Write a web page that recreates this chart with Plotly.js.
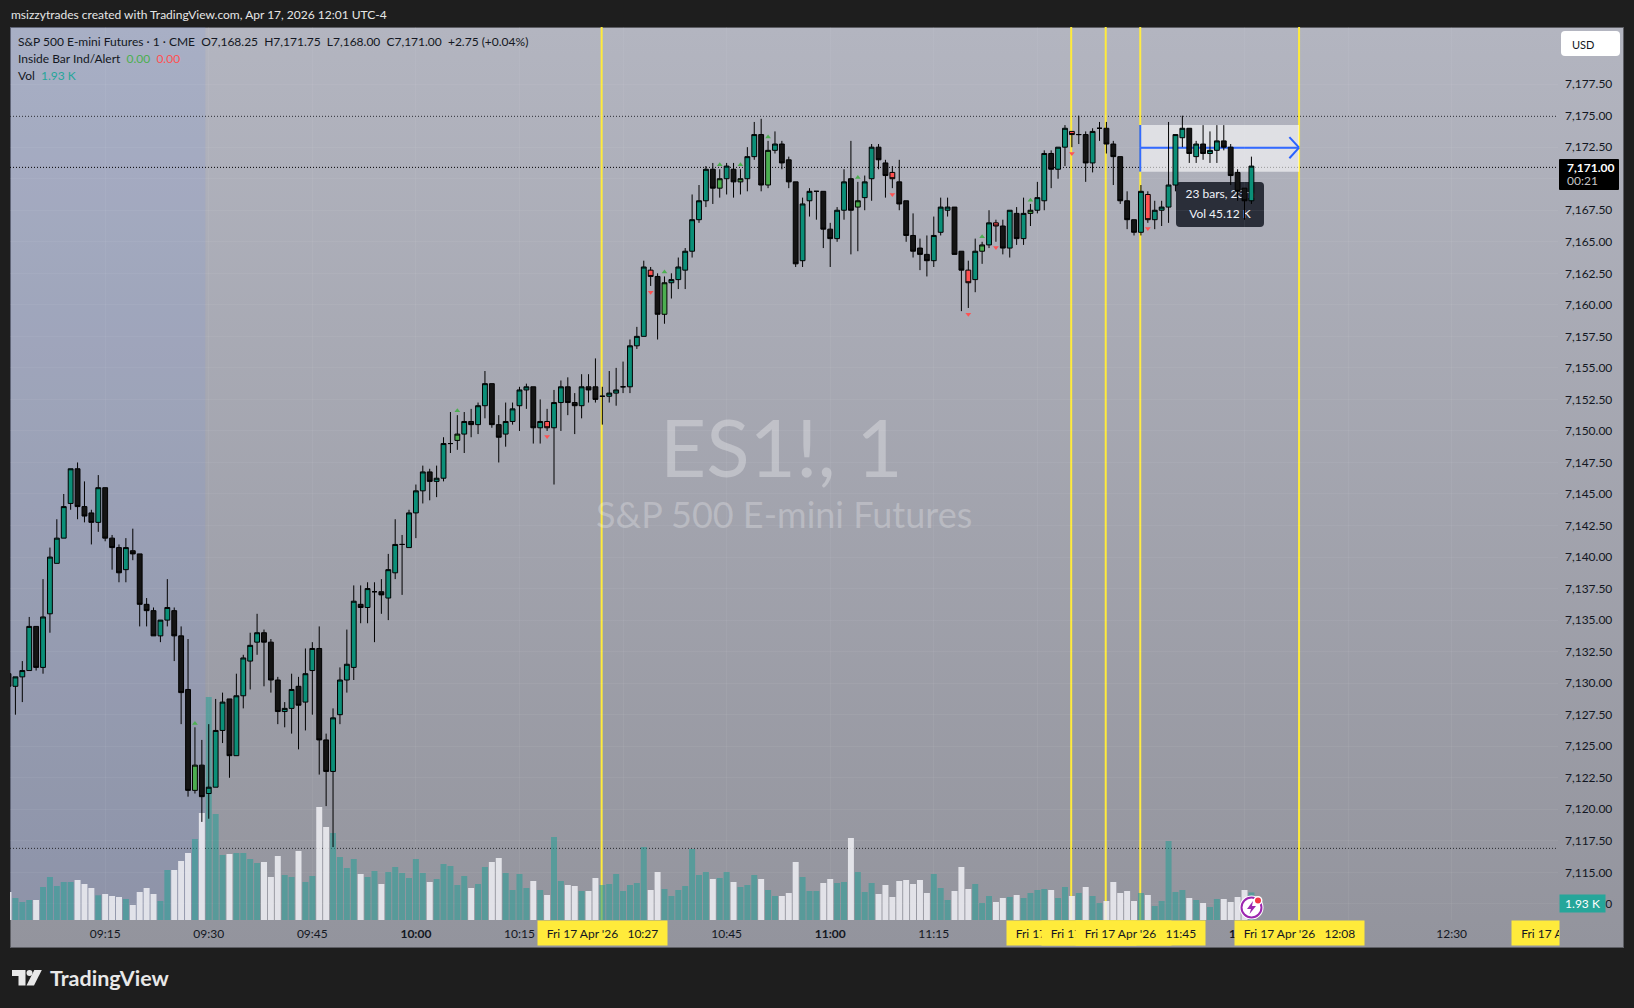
<!DOCTYPE html>
<html>
<head>
<meta charset="utf-8">
<script src="https://cdn.plot.ly/plotly-3.0.1.min.js"></script>
<style>
  body { margin: 0; background: #1e1e1e; overflow: hidden; }
  #frame { position: absolute; left: 10px; top: 27px; width: 1612px; height: 919px; border: 1px solid #5d5e64;
           background: linear-gradient(#b3b5c0, #93949d); }
  #chart { position: absolute; left: 0; top: 0; width: 1634px; height: 1008px; }
</style>
</head>
<body>
<div id="frame"></div>
<div id="chart"></div>
<script>
// ES1! 1 minute bars, 09:01 to 12:01
const opens = [
  7130.75,7129.75,7130.5,7131,7134.5,7131.25,7135.5,7139.5,7141.5,7144.25,
  7147,7144,7143.5,7142.75,7145.5,7141.5,7140.75,7139,7140.5,7140.25,
  7136.25,7135.75,7133.75,7135,7135.75,7133.75,7129.5,7121.5,7123.5,7121.25,
  7121.75,7126.25,7128.75,7124.25,7129,7131.75,7133.25,7134,7133.25,7130.25,
  7127.75,7128,7129.75,7128.5,7131,7132.75,7125.5,7123,7127.5,7130.25,
  7131.25,7136.25,7136,7137.25,7137.25,7136.75,7138.75,7141,7140.75,7143.5,
  7145.25,7146.75,7146,7146.25,7149,7149.25,7149.75,7150.75,7150.5,7152,
  7153.75,7150.5,7149.75,7150.75,7152,7153.25,7153.5,7150.25,7150.75,7150.25,
  7152.25,7153.5,7152.25,7152,7153.5,7153.5,7152.75,7152.75,7153,7153.5,
  7153.5,7156.75,7157.5,7162.75,7162.25,7159.25,7161.75,7162,7162.75,7164.25,
  7166.75,7168.25,7170.75,7169.25,7170,7170.75,7169.75,7170,7171.75,7173.5,
  7169.5,7172.25,7172.75,7171.5,7169.75,7163.5,7168.25,7169,7169,7166,
  7165.25,7167.5,7170,7167.75,7168.5,7170,7172.5,7171.25,7170.5,7169.75,
  7168.25,7165.5,7164.5,7164,7163.5,7165.75,7167.5,7167.75,7164.25,7162.75,
  7162,7164.25,7164.75,7166.5,7166.25,7164.5,7167.25,7165.25,7167.25,7167.5,
  7168.25,7172,7170.75,7172.5,7173.75,7173.5,7173.5,7171.25,7174,7174,
  7172.75,7171.75,7168.25,7166.75,7165.75,7168.75,7166.75,7167.5,7167.75,7169.5,
  7173.25,7174,7171.75,7172.75,7172,7172.25,7173,7172.5,7170.5,7169.25,
  7168.25
];
const highs = [
  7131,7130.5,7131.75,7135.25,7134.5,7138.25,7140.75,7143,7145,7147,
  7147.5,7146,7143.75,7146.5,7145.5,7141.75,7141,7141.5,7142.25,7140.25,
  7136.75,7136,7135,7138.25,7136,7134.5,7133.5,7126.5,7125.5,7126.75,
  7128.75,7129.25,7128.75,7130.75,7132.25,7134,7135.5,7134.25,7133.5,7130.5,
  7128.5,7130.75,7130.5,7132.75,7133.25,7134.5,7126,7128,7131.25,7134.25,
  7137.75,7137.75,7138,7138,7138.25,7140.25,7143,7141.75,7143.75,7145.75,
  7147.25,7147,7147.25,7149.5,7151.5,7151.25,7151.5,7151.75,7152.25,7154.75,
  7153.75,7151.25,7152.25,7152.25,7153.5,7153.75,7153.5,7152.5,7151.75,7153.25,
  7154,7154.25,7153,7154.5,7154.5,7155.75,7153.5,7154.75,7155,7155.5,
  7157.25,7158.25,7163.5,7163,7162.5,7162.25,7162.5,7163.75,7164.5,7168.75,
  7169.5,7171,7171.25,7170.75,7171.25,7171.25,7170.75,7172.5,7174.5,7174.75,
  7173,7173.75,7173,7171.75,7169.75,7168.5,7169.25,7169,7169,7166.5,
  7167.75,7170.75,7173,7169.75,7170.25,7172.75,7172.75,7171.5,7171,7171.5,
  7168.25,7167.25,7165.25,7165.5,7167,7168.5,7168.5,7167.75,7164.25,7163.5,
  7165.25,7165,7167.5,7166.75,7166.75,7167.5,7167.75,7168.5,7168,7169.75,
  7172.25,7172.25,7172.5,7174.25,7173.75,7175,7173.75,7174,7174.5,7174.5,
  7173,7171.75,7169,7166.75,7169.5,7169,7168.25,7168.25,7174.5,7173.5,
  7175,7174,7173,7174.25,7173.75,7174.25,7174.25,7172.75,7170.75,7169.25,
  7171.75
];
const lows = [
  7129.25,7127.5,7128.5,7131,7131,7130.75,7134,7139.5,7141.5,7143.75,
  7143,7142.75,7141,7142,7141.25,7139,7138,7138,7139.75,7134.5,
  7134.5,7133.75,7133.25,7134.5,7131.75,7126.75,7121,7121.25,7119,7119.25,
  7121.75,7125.25,7122.5,7124.25,7128,7129.5,7132.25,7129.75,7129.25,7126.75,
  7126.5,7126,7124.75,7126.25,7127.5,7122.75,7120.25,7117,7126.75,7129.25,
  7130.25,7134.75,7134.75,7133.25,7135.5,7135,7138.25,7137,7140.75,7141.5,
  7144.25,7144.5,7144.75,7146,7148.25,7148.5,7148.25,7149.5,7149.75,7151,
  7150.25,7147.5,7148.75,7150.5,7150,7151.75,7149,7149,7150,7145.75,
  7150,7151.25,7149.75,7151,7152.25,7152.25,7150.5,7152.25,7152,7153,
  7153,7156.5,7157.5,7161.5,7157.25,7158.5,7160.5,7161.25,7161.25,7163.75,
  7166.5,7167.75,7168,7168.5,7168.75,7168.5,7168.75,7169,7171.5,7169,
  7169.25,7172,7170.75,7169.25,7163,7163,7167,7166.75,7164.5,7163,
  7165,7166.75,7164,7164.25,7167.5,7168.25,7170.75,7168.5,7169.25,7167.5,
  7165,7163.75,7162.75,7162.25,7163,7165.5,7167,7164,7159.5,7159.75,
  7161,7163.25,7164.5,7165,7164,7163.75,7164.75,7164.75,7166.25,7167.25,
  7167.5,7169.25,7170,7171,7172.5,7172.75,7169.75,7170.5,7173,7172,
  7169.5,7168,7166,7165.5,7165.5,7166.5,7166,7166.25,7166.5,7169,
  7172.5,7171.25,7171.25,7171.5,7171.25,7171.25,7172.25,7169.5,7168.25,7166.75,
  7168
];
const closes = [
  7129.75,7130.5,7131,7134.5,7131.25,7135.25,7140,7141.5,7144,7147,
  7144,7143.25,7142.75,7145.5,7141.5,7140.75,7138.75,7140.75,7140.25,7136.25,
  7135.75,7133.75,7135,7136,7133.75,7129.25,7121.5,7123.5,7121,7121.75,
  7126.25,7128.5,7124.25,7129,7132,7133,7134,7133.25,7130.25,7127.75,
  7128,7129.5,7128.25,7130.75,7132.75,7125.5,7123,7127.25,7130.25,7131.5,
  7136.5,7136,7137.5,7137.25,7137,7139,7141,7141,7143.5,7145.25,
  7146.75,7146,7146.25,7149,7149,7149.75,7150.75,7150.5,7152,7153.75,
  7150.5,7149.5,7150.75,7151.75,7153.25,7153.5,7150.25,7150.75,7150.25,7152.25,
  7153.5,7152.25,7152,7153.5,7153.25,7152.5,7152.75,7153,7153.25,7153.5,
  7156.75,7157.5,7163,7162.25,7159.25,7161.75,7162,7163,7164.25,7166.75,
  7168.25,7170.75,7169.25,7170,7171,7169.75,7170,7171.75,7173.5,7169.5,
  7172.25,7172.75,7171.25,7169.75,7163.25,7168,7169,7169,7166,7165.25,
  7167.5,7169.75,7167.5,7168.25,7169.75,7172.5,7171.5,7170.25,7170,7168,
  7165.5,7164.25,7164,7163.5,7165.5,7167.75,7167.75,7164,7162.75,7161.75,
  7164.25,7164.75,7166.5,7166.25,7164.5,7167.5,7165.25,7167.25,7167.5,7168.5,
  7172,7170.75,7172.5,7174,7173.5,7173.5,7171.25,7173.75,7174,7172.75,
  7171.75,7168.25,7166.75,7165.75,7169,7166.75,7167.5,7167.75,7169.5,7173.5,
  7174,7172,7172.75,7172,7172.25,7173,7172.5,7170.25,7169,7168.25,
  7171
];
// volume in thousands of contracts
const volumes = [
  1.96,1.54,1.26,1.40,1.40,2.31,3.01,2.38,2.66,2.66,
  2.80,2.52,2.24,1.73,1.82,1.68,1.61,1.47,1.05,1.96,
  2.24,1.82,1.33,3.50,3.50,4.13,4.69,5.67,7.49,15.61,
  7.42,4.55,4.62,4.69,4.69,4.27,3.99,4.06,3.01,4.48,
  3.15,3.01,4.83,2.66,3.08,7.91,6.51,6.09,4.41,3.64,
  4.27,3.22,3.01,3.43,2.52,3.36,3.71,3.29,2.94,4.27,
  3.29,2.66,2.87,3.92,3.78,2.45,3.08,2.24,2.52,3.71,
  4.06,4.34,3.29,2.10,3.22,2.24,2.73,2.10,1.75,5.81,
  2.73,2.45,2.38,2.03,2.03,2.94,2.45,2.52,3.22,2.03,
  2.45,2.59,5.11,2.10,3.36,2.17,1.68,2.10,2.38,4.97,
  3.15,3.36,2.87,2.94,3.36,2.66,2.31,2.45,3.15,2.87,
  2.10,1.68,1.68,1.89,4.06,3.01,2.03,2.03,2.59,2.87,
  2.59,2.66,5.74,3.36,1.96,2.59,1.82,2.45,1.61,2.73,
  2.80,2.52,2.80,1.89,3.22,2.24,1.40,2.03,3.71,2.17,
  2.52,1.19,1.68,1.26,1.54,1.61,1.75,1.54,1.89,2.10,
  2.17,2.10,1.54,2.31,1.68,1.89,2.31,1.68,1.19,1.33,
  2.66,1.89,2.03,1.33,1.89,1.75,0.98,1.33,5.53,1.96,
  2.10,1.54,1.40,1.19,0.91,1.47,1.47,1.26,1.61,2.10,
  1.93
];

// inside bar signals: triangle time and price
const bullTimes = ['09:28','10:06','10:36','10:44','10:47','10:51','11:04','11:22','11:29'];
const bullPrices = [7126.8,7151.6,7162.6,7171.1,7171.1,7173.3,7170.1,7165.4,7168.3];
const bearTimes = ['10:19','10:34','11:09','11:20','11:24','11:35','11:46'];
const bearPrices = [7149.55,7161,7168.75,7159.25,7164.55,7172,7166.05];

const markedTimes = ['10:27','11:35','11:40','11:45','12:08'];
const levels = [7174.95, 7170.9, 7116.9];
const priceTicks = [7177.5,7175,7172.5,7170,7167.5,7165,7162.5,7160,7157.5,7155,7152.5,7150,7147.5,7145,
  7142.5,7140,7137.5,7135,7132.5,7130,7127.5,7125,7122.5,7120,7117.5,7115,7112.5];
const tickTimes = ['09:15','09:30','09:45','10:00','10:15','10:30','10:45','11:00','11:15','11:30','11:45','12:00','12:15','12:30'];
const tickLabels = ['09:15','09:30','09:45','<b>10:00</b>','10:15','10:30','10:45','<b>11:00</b>','11:15','11:30','11:45','<b>12:00</b>','12:15','12:30'];

const FONT = 'Lato, "Noto Sans", sans-serif';
const DARK = '#131722';
const TEAL = '#0b8f78';
const YELLOW = '#ffeb3b';
const BLUE = '#2962ff';
const W = 1634, H = 1008, ML = 10, MR = 76, MT = 27, MB = 88;

const day = '2026-04-17 ';
const t = s => day + s;
// drawings sit a hair left of the bar centre in the original
const lineTime = s => {
  const [hh, mm] = s.split(':').map(Number);
  const m = hh * 60 + mm - 1;
  return t(String(Math.floor(m / 60)).padStart(2, '0') + ':' + String(m % 60).padStart(2, '0') + ':54');
};
// pixel position on the page to paper coordinates
const px = x => (x - ML) / (W - ML - MR);
const py = y => 1 - (y - MT) / (H - MT - MB);

const times = opens.map((_, i) => {
  const m = 541 + i;
  return t(String(Math.floor(m / 60)).padStart(2, '0') + ':' + String(m % 60).padStart(2, '0'));
});
const flagged = new Set(bullTimes.concat(bearTimes).map(t));

function candles(keep, upColor, downColor) {
  const idx = times.map((_, i) => i).filter(i => keep(times[i]));
  return {
    type: 'candlestick', xaxis: 'x', yaxis: 'y2', hoverinfo: 'skip', showlegend: false,
    x: idx.map(i => times[i]), open: idx.map(i => opens[i]), high: idx.map(i => highs[i]),
    low: idx.map(i => lows[i]), close: idx.map(i => closes[i]),
    increasing: { line: { color: '#000', width: 1 }, fillcolor: upColor },
    decreasing: { line: { color: '#000', width: 1 }, fillcolor: downColor }
  };
}

const data = [
  {
    type: 'bar', x: times, y: volumes, width: 52000, xaxis: 'x', yaxis: 'y', hoverinfo: 'skip', showlegend: false,
    marker: { color: times.map((_, i) => closes[i] >= opens[i] ? 'rgba(38,158,150,0.55)' : 'rgba(240,240,245,0.85)'), line: { width: 0 } }
  },
  // tooltip text sits on the lower subplot so the candles cover it, as in the original
  {
    type: 'scatter', mode: 'text', xaxis: 'x', yaxis: 'y', hoverinfo: 'skip', showlegend: false,
    x: [t('11:56:27'), t('11:56:27')], y: [50.76, 49.36],
    text: ['23 bars, 23m', 'Vol 45.12 K'], textfont: { family: FONT, size: 12, color: '#f0f3fa' }
  },
  candles(x => !flagged.has(x), TEAL, '#141414'),
  candles(x => flagged.has(x), '#4caf50', '#ff5252'),
  {
    type: 'scatter', mode: 'markers', xaxis: 'x', yaxis: 'y2', hoverinfo: 'skip', showlegend: false,
    x: bullTimes.map(t), y: bullPrices, marker: { symbol: 'triangle-up', size: 5, color: '#4caf50' }
  },
  {
    type: 'scatter', mode: 'markers', xaxis: 'x', yaxis: 'y2', hoverinfo: 'skip', showlegend: false,
    x: bearTimes.map(t), y: bearPrices, marker: { symbol: 'triangle-down', size: 5, color: '#ff5252' }
  }
];

// rounded box in page pixels
function roundBox(x0, x1, y0, y1, r, color, layer) {
  const P = (x, y) => px(x) + ',' + py(y);
  const d = 'M' + P(x0 + r, y0) + ' L' + P(x1 - r, y0) + ' Q' + P(x1, y0) + ' ' + P(x1, y0 + r) +
    ' L' + P(x1, y1 - r) + ' Q' + P(x1, y1) + ' ' + P(x1 - r, y1) +
    ' L' + P(x0 + r, y1) + ' Q' + P(x0, y1) + ' ' + P(x0, y1 - r) +
    ' L' + P(x0, y0 + r) + ' Q' + P(x0, y0) + ' ' + P(x0 + r, y0) + ' Z';
  return { type: 'path', layer: layer, xref: 'paper', yref: 'paper', path: d, fillcolor: color, line: { width: 0 } };
}

const shapes = [
  // pre-market tint
  { type: 'rect', layer: 'below', xref: 'x', yref: 'paper', x0: t('09:01:13'), x1: t('09:29:30'), y0: 0, y1: 1,
    fillcolor: 'rgba(110,145,225,0.16)', line: { width: 0 } }
];
levels.forEach(p => shapes.push({ type: 'line', layer: 'below', xref: 'paper', yref: 'y2', x0: 0, x1: 1, y0: p, y1: p,
  line: { color: p === 7170.9 ? '#000' : '#26282e', width: 1, dash: '1px,2px' } }));
markedTimes.forEach(s => shapes.push({ type: 'line', layer: 'below', xref: 'x', yref: 'paper', x0: lineTime(s), x1: lineTime(s), y0: 0, y1: 1,
  line: { color: YELLOW, width: 2 } }));
// long position box
const boxL = lineTime('11:45'), boxR = lineTime('12:08');
shapes.push(
  { type: 'rect', layer: 'below', xref: 'x', yref: 'y2', x0: boxL, x1: boxR, y0: 7170.56, y1: 7174.26,
    fillcolor: 'rgba(255,255,255,0.6)', line: { width: 0 } },
  { type: 'line', layer: 'below', xref: 'x', yref: 'y2', x0: boxL, x1: boxL, y0: 7170.56, y1: 7174.26, line: { color: BLUE, width: 2 } },
  { type: 'line', layer: 'below', xref: 'x', yref: 'y2', x0: boxL, x1: boxR, y0: 7172.46, y1: 7172.46, line: { color: BLUE, width: 2 } },
  { type: 'line', layer: 'below', xref: 'x', yref: 'y2', x0: t('12:06:30'), x1: boxR, y0: 7173.3, y1: 7172.46, line: { color: BLUE, width: 2 } },
  { type: 'line', layer: 'below', xref: 'x', yref: 'y2', x0: t('12:06:30'), x1: boxR, y0: 7171.62, y1: 7172.46, line: { color: BLUE, width: 2 } },
  roundBox(1176, 1264, 182, 227, 4, '#2a2e39', 'below')
);
// paper shape helper for the logo and the alert icon
function poly(pts, color) {
  const d = pts.map((p, i) => (i ? 'L' : 'M') + px(p[0]) + ',' + py(p[1])).join(' ') + ' Z';
  return { type: 'path', layer: 'above', xref: 'paper', yref: 'paper', path: d, fillcolor: color, line: { width: 0 } };
}
function disc(cx, cy, r, fill, stroke, sw) {
  return { type: 'circle', layer: 'above', xref: 'paper', yref: 'paper', x0: px(cx - r), x1: px(cx + r), y0: py(cy + r), y1: py(cy - r),
    fillcolor: fill, line: { color: stroke, width: sw } };
}
shapes.push(
  poly([[12,970],[25.5,970],[25.5,985.5],[18.5,985.5],[18.5,976],[12,976]], '#e8e8e8'),
  disc(29.5, 973, 3, '#e8e8e8', '#e8e8e8', 0),
  poly([[41.8,970],[34,985.5],[26.5,985.5],[34.3,970]], '#e8e8e8'),
  disc(1251.5, 907.5, 12, '#fff', '#fff', 0),
  disc(1251.5, 907.5, 10, '#fff', '#9c27b0', 2),
  poly([[1253,901],[1247,909],[1251,909],[1249.5,914],[1256,906],[1252,906]], '#9c27b0'),
  disc(1258, 900.5, 4.5, '#fff', '#fff', 0),
  disc(1258, 900.5, 3, '#f23645', '#f23645', 0),
  roundBox(1561, 1620, 31, 56, 4, '#fff', 'above'),
  roundBox(1559, 1619, 159, 190, 1, '#000', 'above')
);

function pageText(text, x, y, size, color, extra) {
  return Object.assign({ text: text, xref: 'paper', yref: 'paper', x: px(x), y: py(y), xanchor: 'left', yanchor: 'middle',
    showarrow: false, align: 'left', font: { family: FONT, size: size, color: color }, borderpad: 0 }, extra || {});
}
function tag(text, x0, x1, y0, y1, bg, color, size, align) {
  return { text: text, xref: 'paper', yref: 'paper', x: px(x0), y: py(y0), xanchor: 'left', yanchor: 'top', width: x1 - x0, height: y1 - y0,
    bgcolor: bg, showarrow: false, align: align || 'center', valign: 'middle', borderpad: 0, font: { family: FONT, size: size || 12, color: color } };
}
const g = '#4caf50', r = '#ff5252', k = '#26a69a';
const annotations = [
  pageText("msizzytrades created with TradingView.com, Apr 17, 2026 12:01 UTC-4", 10, 14.5, 12, '#e6e6e6'),
  pageText("S&P 500 E-mini Futures · 1 · CME &nbsp;O7,168.25 &nbsp;H7,171.75 &nbsp;L7,168.00 &nbsp;C7,171.00 &nbsp;+2.75 (+0.04%)", 17, 42, 12, DARK),
  pageText("Inside Bar Ind/Alert &nbsp;<span style='color:" + g + "'>0.00</span> &nbsp;<span style='color:" + r + "'>0.00</span>", 17, 59, 12, DARK),
  pageText("Vol &nbsp;<span style='color:" + k + "'>1.93 K</span>", 17, 75.5, 12, DARK),
  pageText("ES1!, 1", 781, 446, 80, 'rgba(255,255,255,0.3)', { xanchor: 'center' }),
  pageText("S&P 500 E-mini Futures", 784, 514, 36, 'rgba(255,255,255,0.25)', { xanchor: 'center' }),
  pageText("<b>TradingView</b>", 49, 978, 21.5, '#e8e8e8'),
  pageText('USD', 1571, 44, 11, DARK),
  pageText('<b>7,171.00</b>', 1566, 167, 12, '#fff'),
  pageText('00:21', 1566, 180.5, 12, '#c4c4c4'),
  tag('1.93 K', 1559, 1604, 894, 911, '#26a69a', '#fff')
];
// yellow time labels, later ones cover earlier ones
markedTimes.forEach(s => {
  annotations.push({ text: "Fri 17 Apr '26 &nbsp; " + s, xref: 'x', yref: 'paper', x: t(s), y: 0, xanchor: 'center', yanchor: 'top', width: 129, height: 24,
    bgcolor: YELLOW, showarrow: false, borderpad: 0, align: 'center', valign: 'middle', font: { family: FONT, size: 12, color: DARK } });
});
annotations.push(tag('&nbsp;&nbsp;&nbsp;Fri 17 A', 1511, 1558, 920, 944, YELLOW, DARK, 12, 'left'));

const layout = {
  width: W, height: H, autosize: false,
  margin: { l: ML, r: MR, t: MT, b: MB, pad: 0 },
  paper_bgcolor: 'rgba(0,0,0,0)', plot_bgcolor: 'rgba(0,0,0,0)',
  showlegend: false, dragmode: false, hovermode: false,
  boxmode: 'overlay', boxgap: 0.3, boxgroupgap: 0,
  font: { family: FONT, size: 12, color: DARK },
  xaxis: {
    type: 'date', range: [t('09:01:13'), t('12:45:24')], rangeslider: { visible: false },
    tickmode: 'array', tickvals: tickTimes.map(t), ticktext: tickLabels, ticks: '', showline: false, zeroline: false,
    showgrid: true, gridcolor: 'rgba(255,255,255,0.05)', tickfont: { family: FONT, size: 12, color: DARK }, tickangle: 0,
    ticklabelstandoff: 5
  },
  yaxis: { range: [0, 62.51], visible: false, showgrid: false, zeroline: false, fixedrange: true },
  yaxis2: {
    overlaying: 'y', side: 'right', range: [7111.22, 7182.03], tickmode: 'array', tickvals: priceTicks, tickformat: ',.2f',
    showgrid: true, gridcolor: 'rgba(255,255,255,0.05)', zeroline: false, showline: false, ticks: '', ticklabelstandoff: 6,
    tickfont: { family: FONT, size: 12, color: DARK }
  },
  shapes: shapes,
  annotations: annotations
};

Plotly.newPlot('chart', data, layout, { displayModeBar: false, staticPlot: true });
</script>
</body>
</html>
